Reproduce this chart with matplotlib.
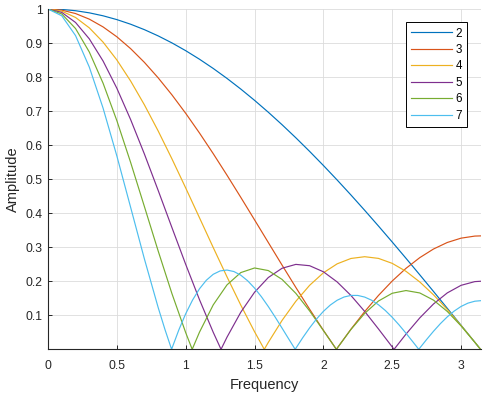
import matplotlib
matplotlib.use("Agg")
import matplotlib.pyplot as plt

plt.rcParams['font.family'] = ['Liberation Sans', 'DejaVu Sans']

# amplitude, one series per filter length
w_grid = [0.0, 0.1, 0.2, 0.3, 0.4, 0.5, 0.6, 0.7, 0.8, 0.9, 1.0, 1.1, 1.2, 1.3, 1.4, 1.5,
          1.6, 1.7, 1.8, 1.9, 2.0, 2.1, 2.2, 2.3, 2.4, 2.5, 2.6, 2.7, 2.8, 2.9, 3.0, 3.1, 3.1416]

amp2 = [1.0, 0.99875, 0.995, 0.98877, 0.98007, 0.96891, 0.95534, 0.93937, 0.92106, 0.90045,
        0.87758, 0.85252, 0.82534, 0.79608, 0.76484, 0.73169, 0.69671, 0.65998, 0.62161,
        0.58168, 0.5403, 0.49757, 0.4536, 0.40849, 0.36236, 0.31532, 0.2675, 0.21901,
        0.16997, 0.1205, 0.07074, 0.02079, 0.0]

w3 = [0.0, 0.1, 0.2, 0.3, 0.4, 0.5, 0.6, 0.7, 0.8, 0.9, 1.0, 1.1, 1.2, 1.3, 1.4, 1.5,
      1.6, 1.7, 1.8, 1.9, 2.0, 2.0944, 2.1, 2.2, 2.3, 2.4, 2.5, 2.6, 2.7, 2.8, 2.9, 3.0, 3.1, 3.1416]
amp3 = [1.0, 0.99667, 0.98671, 0.97023, 0.94737, 0.91839, 0.88356, 0.84323, 0.79781, 0.74774,
        0.69353, 0.63573, 0.57491, 0.51167, 0.44665, 0.38049, 0.31387, 0.24744, 0.18187,
        0.11781, 0.0559, 0.0, 0.00323, 0.059, 0.11085, 0.15826, 0.20076, 0.23793, 0.26938,
        0.29481, 0.31397, 0.32666, 0.33276, 0.33333]

w4 = [0.0, 0.1, 0.2, 0.3, 0.4, 0.5, 0.6, 0.7, 0.8, 0.9, 1.0, 1.1, 1.2, 1.3, 1.4, 1.5, 1.5708,
      1.6, 1.7, 1.8, 1.9, 2.0, 2.1, 2.2, 2.3, 2.4, 2.5, 2.6, 2.7, 2.8, 2.9, 3.0, 3.1, 3.1416]
amp4 = [1.0, 0.99376, 0.97517, 0.94461, 0.9027, 0.8503, 0.78848, 0.71847, 0.64171, 0.55973,
        0.47416, 0.3867, 0.29907, 0.21295, 0.13, 0.05176, 0.0, 0.02034, 0.08503, 0.14123,
        0.18805, 0.22485, 0.2512, 0.26694, 0.27217, 0.2672, 0.25262, 0.22922, 0.198, 0.16015,
        0.117, 0.07003, 0.02077, 0.0]

w5 = [0.0, 0.1, 0.2, 0.3, 0.4, 0.5, 0.6, 0.7, 0.8, 0.9, 1.0, 1.1, 1.2, 1.2566, 1.3, 1.4, 1.5,
      1.6, 1.7, 1.8, 1.9, 2.0, 2.1, 2.2, 2.3, 2.4, 2.5, 2.5133, 2.6, 2.7, 2.8, 2.9, 3.0, 3.1, 3.1416]
amp5 = [1.0, 0.99003, 0.96045, 0.91227, 0.84711, 0.76715, 0.67508, 0.57392, 0.467, 0.35776,
        0.24966, 0.14604, 0.04999, 0.0, 0.03576, 0.1089, 0.1677, 0.211, 0.23826, 0.24958,
        0.2457, 0.22792, 0.19804, 0.15833, 0.11137, 0.05996, 0.00699, 0.0, 0.04465, 0.09225,
        0.13334, 0.16582, 0.18807, 0.19896, 0.2]

w6 = [0.0, 0.1, 0.2, 0.3, 0.4, 0.5, 0.6, 0.7, 0.8, 0.9, 1.0, 1.0472, 1.1, 1.2, 1.3, 1.4, 1.5,
      1.6, 1.7, 1.8, 1.9, 2.0, 2.0944, 2.1, 2.2, 2.3, 2.4, 2.5, 2.6, 2.7, 2.8, 2.9, 3.0, 3.1, 3.1416]
amp6 = [1.0, 0.98548, 0.94263, 0.87364, 0.78191, 0.67197, 0.54924, 0.41957, 0.28909, 0.16376,
        0.04906, 0.0, 0.0503, 0.13062, 0.18941, 0.22548, 0.23902, 0.23144, 0.20539, 0.16442,
        0.11283, 0.05534, 0.0, 0.00323, 0.05827, 0.10562, 0.14193, 0.16474, 0.17272, 0.16567,
        0.14454, 0.1113, 0.06886, 0.02074, 0.0]

w7 = [0.0, 0.1, 0.2, 0.3, 0.4, 0.5, 0.6, 0.7, 0.8, 0.85, 0.8976, 0.9, 0.95, 1.0, 1.05, 1.1,
      1.15, 1.2, 1.25, 1.3, 1.35, 1.4, 1.45, 1.5, 1.55, 1.6, 1.65, 1.7, 1.75, 1.7952, 1.8,
      1.85, 1.9, 1.95, 2.0, 2.05, 2.1, 2.15, 2.2, 2.25, 2.3, 2.35, 2.4, 2.45, 2.5, 2.55, 2.6,
      2.65, 2.6928, 2.7, 2.75, 2.8, 2.85, 2.9, 2.95, 3.0, 3.05, 3.1, 3.1416]
amp7 = [1.0, 0.98012, 0.92185, 0.82923, 0.70861, 0.56818, 0.41729, 0.2657, 0.12289, 0.05745,
        0.0, 0.00276, 0.05697, 0.10453, 0.14492, 0.17782, 0.20304, 0.22051, 0.2304, 0.23295,
        0.22856, 0.21786, 0.20142, 0.18001, 0.1545, 0.12571, 0.09463, 0.06219, 0.02932, 0.0,
        0.00307, 0.0341, 0.06299, 0.089, 0.11154, 0.13006, 0.14421, 0.15372, 0.1584, 0.1583,
        0.15351, 0.14433, 0.13099, 0.11407, 0.09405, 0.07157, 0.04731, 0.02198, 0.0, 0.00369,
        0.02897, 0.05313, 0.07551, 0.09546, 0.11239, 0.12599, 0.13572, 0.14138, 0.14286]

labels = ['2', '3', '4', '5', '6', '7']
colors = ['#0072BD', '#D95319', '#EDB120', '#7E2F8E', '#77AC30', '#4DBEEE']

series = [(w_grid, amp2), (w3, amp3), (w4, amp4), (w5, amp5), (w6, amp6), (w7, amp7)]

fig = plt.figure(figsize=(4.86, 3.94), dpi=100)
ax = fig.add_axes([0.0988, 0.1134, 0.890, 0.8637])

for (x, y), lab, c in zip(series, labels, colors):
    ax.plot(x, y, color=c, lw=0.85, label=lab)

ax.set_xlim(0, 3.1416)
ax.set_ylim(0, 1)
ax.set_xticks([0, 0.5, 1, 1.5, 2, 2.5, 3])
ax.set_xticklabels(['0', '0.5', '1', '1.5', '2', '2.5', '3'])
ax.set_yticks([0.1, 0.2, 0.3, 0.4, 0.5, 0.6, 0.7, 0.8, 0.9, 1.0])
ax.set_yticklabels(['0.1', '0.2', '0.3', '0.4', '0.5', '0.6', '0.7', '0.8', '0.9', '1'])
ax.tick_params(direction='in', labelsize=8.7, length=3, width=0.7, colors='#262626')
ax.tick_params(axis='x', pad=8)
ax.tick_params(axis='y', pad=4)
ax.grid(True, color='#dcdcdc', lw=0.6)
ax.set_axisbelow(True)
for s in ['top', 'right']:
    ax.spines[s].set_visible(False)
for s in ['left', 'bottom']:
    ax.spines[s].set_linewidth(0.8)
    ax.spines[s].set_color('#262626')

ax.set_xlabel('Frequency', fontsize=10.5, color='#262626', labelpad=4)
ax.set_ylabel('Amplitude', fontsize=10.5, color='#262626', labelpad=4)

leg = ax.legend(loc='upper right', bbox_to_anchor=(0.969, 0.961), borderaxespad=0,
                fancybox=False, fontsize=8.4, handlelength=3.5, labelspacing=0.38,
                handletextpad=0.3, borderpad=0.45, framealpha=1)
leg.get_frame().set_edgecolor('black')
leg.get_frame().set_linewidth(0.7)

fig.savefig('out.png', dpi=100)
